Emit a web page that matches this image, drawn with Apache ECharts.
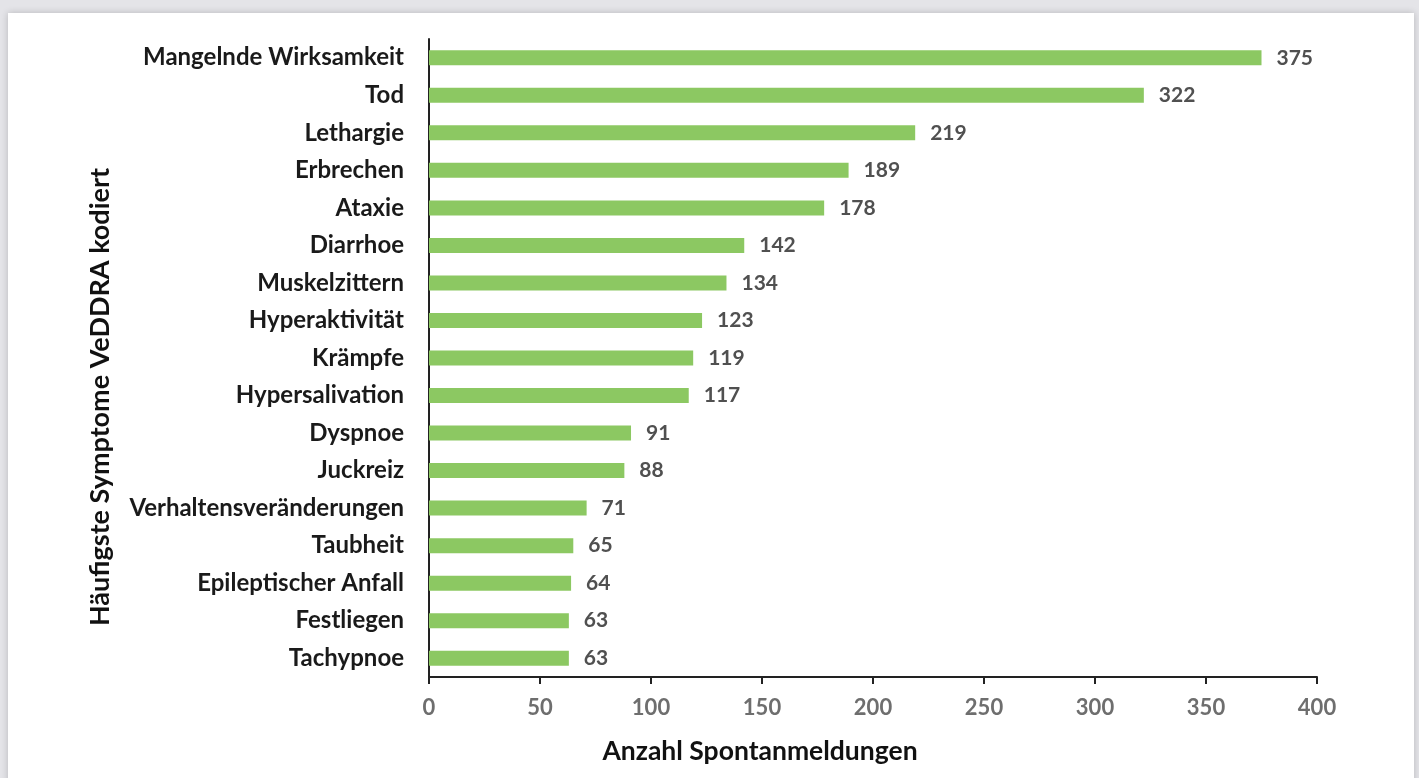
<!DOCTYPE html>
<html><head><meta charset="utf-8">
<script src="https://cdn.jsdelivr.net/npm/echarts@6/dist/echarts.min.js"></script>
<style>
html,body{margin:0;padding:0;width:1419px;height:778px;overflow:hidden;background:#e4e4e8;}
#card{position:absolute;left:8px;top:13px;width:1406px;height:800px;background:#fff;box-shadow:0 0 7px rgba(0,0,0,0.2);}
#chart{position:absolute;left:0;top:0;width:1419px;height:778px;}
</style></head>
<body><div id="card"></div><div id="chart"></div>
<script>
const categories = ["Mangelnde Wirksamkeit","Tod","Lethargie","Erbrechen","Ataxie","Diarrhoe","Muskelzittern","Hyperaktivität","Krämpfe","Hypersalivation","Dyspnoe","Juckreiz","Verhaltensveränderungen","Taubheit","Epileptischer Anfall","Festliegen","Tachypnoe"];
const values = [375,322,219,189,178,142,134,123,119,117,91,88,71,65,64,63,63];
const xAxisName = "Anzahl Spontanmeldungen";
const yAxisName = "Häufigste Symptome VeDDRA kodiert";

const chart = echarts.init(document.getElementById('chart'), null, {renderer:'canvas'});
const font = 'Lato';
chart.setOption({
  backgroundColor: 'transparent',
  animation: false,
  grid: {left: 429, right: 102, top: 39, bottom: 101},
  xAxis: {
    type: 'value', min: 0, max: 400, interval: 50,
    name: xAxisName, nameLocation: 'middle', nameGap: 61,
    nameTextStyle: {fontFamily: font, fontWeight: 'bold', fontSize: 26.5, color: '#111', padding: [0, 226, 0, 0]},
    axisLine: {show: true, lineStyle: {color: '#222', width: 2}},
    axisTick: {show: true, length: 7, lineStyle: {color: '#222', width: 2}},
    axisLabel: {fontFamily: font, fontSize: 22, color: '#6e6e6e', fontWeight: 'bold', margin: 20},
    splitLine: {show: false}
  },
  yAxis: {
    type: 'category', data: categories, inverse: true,
    name: yAxisName, nameLocation: 'middle', nameGap: 315, nameRotate: 90,
    nameTextStyle: {fontFamily: font, fontWeight: 'bold', fontSize: 27, color: '#111', padding: [0, 78, 0, 0]},
    axisLine: {show: true, lineStyle: {color: '#222', width: 2}},
    axisTick: {show: false},
    axisLabel: {fontFamily: font, fontSize: 24, color: '#1a1a1a', fontWeight: 'bold', margin: 25}
  },
  series: [{
    type: 'bar', data: values, barWidth: 15,
    itemStyle: {color: '#8cc862'},
    label: {show: true, position: 'right', distance: 15, fontFamily: font, fontSize: 21, fontWeight: 'bold', color: '#505050'}
  }]
});
</script></body></html>
